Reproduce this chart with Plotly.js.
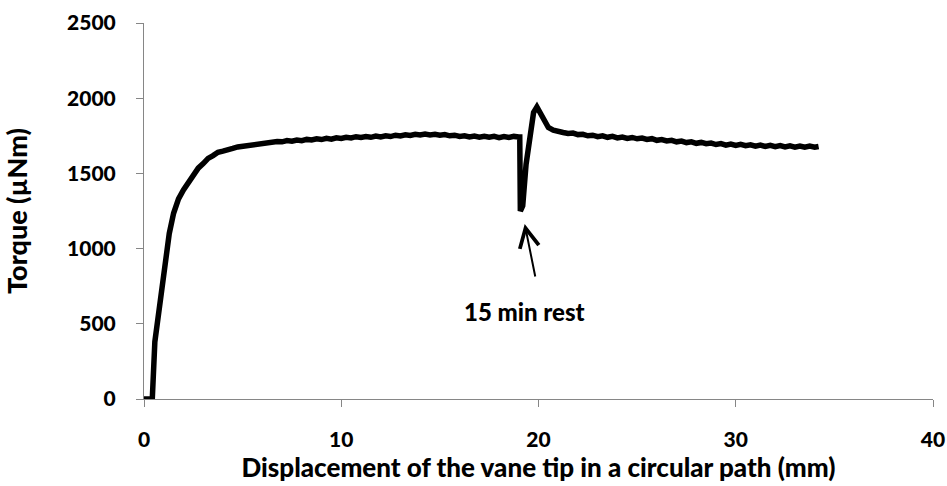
<!DOCTYPE html>
<html>
<head>
<meta charset="utf-8">
<script src="https://cdn.plot.ly/plotly-3.0.1.min.js"></script>
<style>html,body{margin:0;padding:0;background:#fff;}#chart{width:947px;height:486px;}</style>
</head>
<body>
<div id="chart"></div>
<script>
// Displacement of the vane tip (mm)
const displacement = [
  0, 0.1, 0.2, 0.3, 0.42, 0.55, 0.8, 1.05, 1.28, 1.5,
  1.75, 2.0, 2.25, 2.5, 2.75, 3.0, 3.25, 3.5, 3.75, 4.0,
  4.25, 4.5, 4.75, 5.0, 5.25, 5.5, 5.75, 6.0, 6.25, 6.5,
  6.75, 7.0, 7.25, 7.5, 7.75, 8.0, 8.25, 8.5, 8.75, 9.0,
  9.25, 9.5, 9.75, 10.0, 10.25, 10.5, 10.75, 11.0, 11.25, 11.5,
  11.75, 12.0, 12.25, 12.5, 12.75, 13.0, 13.25, 13.5, 13.75, 14.0,
  14.25, 14.5, 14.75, 15.0, 15.25, 15.5, 15.75, 16.0, 16.25, 16.5,
  16.75, 17.0, 17.25, 17.5, 17.75, 18.0, 18.25, 18.5, 18.75, 19.0,
  19.05, 19.08, 19.2, 19.37, 19.57, 19.75, 19.92, 20.1, 20.3, 20.5,
  20.75, 21.0, 21.25, 21.5, 21.75, 22.0, 22.25, 22.5, 22.75, 23.0,
  23.25, 23.5, 23.75, 24.0, 24.25, 24.5, 24.75, 25.0, 25.25, 25.5,
  25.75, 26.0, 26.25, 26.5, 26.75, 27.0, 27.25, 27.5, 27.75, 28.0,
  28.25, 28.5, 28.75, 29.0, 29.25, 29.5, 29.75, 30.0, 30.25, 30.5,
  30.75, 31.0, 31.25, 31.5, 31.75, 32.0, 32.25, 32.5, 32.75, 33.0,
  33.25, 33.5, 33.75, 34.0, 34.2
];
// Torque (µNm)
const torque = [
  0, 0, 0, 0, 0, 380, 650, 880, 1100, 1235,
  1330, 1390, 1440, 1490, 1535, 1565, 1600, 1618, 1640, 1648,
  1662, 1666, 1676, 1680, 1690, 1688, 1698, 1700, 1708, 1704,
  1712, 1710, 1718, 1714, 1722, 1718, 1726, 1722, 1730, 1725,
  1733, 1728, 1737, 1732, 1740, 1736, 1744, 1739, 1745, 1740,
  1748, 1742, 1750, 1745, 1754, 1749, 1757, 1752, 1760, 1755,
  1762, 1756, 1760, 1754, 1758, 1750, 1754, 1746, 1750, 1742,
  1748, 1741, 1747, 1740, 1746, 1738, 1745, 1739, 1746, 1742,
  1742, 1250, 1285, 1560, 1760, 1905, 1942, 1900, 1840, 1805,
  1788, 1776, 1772, 1765, 1768, 1758, 1760, 1750, 1754, 1744,
  1750, 1740, 1746, 1736, 1742, 1733, 1739, 1730, 1735, 1726,
  1731, 1720, 1725, 1716, 1720, 1710, 1715, 1705, 1710, 1700,
  1706, 1697, 1702, 1692, 1698, 1688, 1695, 1686, 1693, 1684,
  1690, 1681, 1688, 1679, 1686, 1678, 1685, 1676, 1683, 1675,
  1682, 1674, 1681, 1674, 1679
];
const xTicks = [0, 10, 20, 30, 40];
const yTicks = [0, 500, 1000, 1500, 2000, 2500];
const noteText = '15 min rest';
const noteHead = [19.3, 1164];
const noteTail = [19.85, 805];
const notePos = [19.3, 585];

const axisGray = '#868686';
const fontFam = 'Lato, "Open Sans", sans-serif';

const trace = {
  x: displacement, y: torque, type: 'scatter', mode: 'lines',
  line: {color: '#000000', width: 5.5},
  hoverinfo: 'skip', showlegend: false
};

const layout = {
  width: 947, height: 486,
  margin: {l: 144, r: 14, t: 23, b: 87},
  paper_bgcolor: '#ffffff', plot_bgcolor: '#ffffff',
  font: {family: fontFam, color: '#000000', size: 20, weight: 900},
  showlegend: false,
  xaxis: {
    range: [0, 40], tickvals: xTicks, ticktext: xTicks.map(String),
    ticks: 'outside', ticklen: 7, tickcolor: axisGray, tickwidth: 1,
    showline: true, linecolor: axisGray, linewidth: 1,
    showgrid: false, zeroline: false, automargin: false,
    ticklabelstandoff: 15, ticklabeloverflow: 'allow',
    tickfont: {family: fontFam, size: 21, color: '#000000', weight: 900},
    title: {text: 'Displacement of the vane tip in a circular path (mm)', standoff: 0,
            font: {family: fontFam, size: 26, color: '#000000', weight: 900}}
  },
  yaxis: {
    range: [0, 2500], tickvals: yTicks, ticktext: yTicks.map(String),
    ticks: 'outside', ticklen: 7, tickcolor: axisGray, tickwidth: 1,
    showline: true, linecolor: axisGray, linewidth: 1,
    showgrid: false, zeroline: false, automargin: false,
    ticklabelstandoff: 16, ticklabeloverflow: 'allow',
    tickfont: {family: fontFam, size: 21, color: '#000000', weight: 900},
    title: {text: 'Torque (µNm)', standoff: 32,
            font: {family: fontFam, size: 27, color: '#000000', weight: 900}}
  },
  annotations: [
    {
      x: noteHead[0], y: noteHead[1], xref: 'x', yref: 'y',
      ax: noteTail[0], ay: noteTail[1], axref: 'x', ayref: 'y',
      text: '', showarrow: true, arrowhead: 5, arrowsize: 1.9, arrowwidth: 2,
      arrowcolor: '#000000'
    },
    {
      x: notePos[0], y: notePos[1], xref: 'x', yref: 'y',
      text: noteText, showarrow: false,
      font: {family: fontFam, size: 24, color: '#000000', weight: 900}
    }
  ]
};

Plotly.newPlot('chart', [trace], layout, {staticPlot: true, displayModeBar: false});
</script>
</body>
</html>
